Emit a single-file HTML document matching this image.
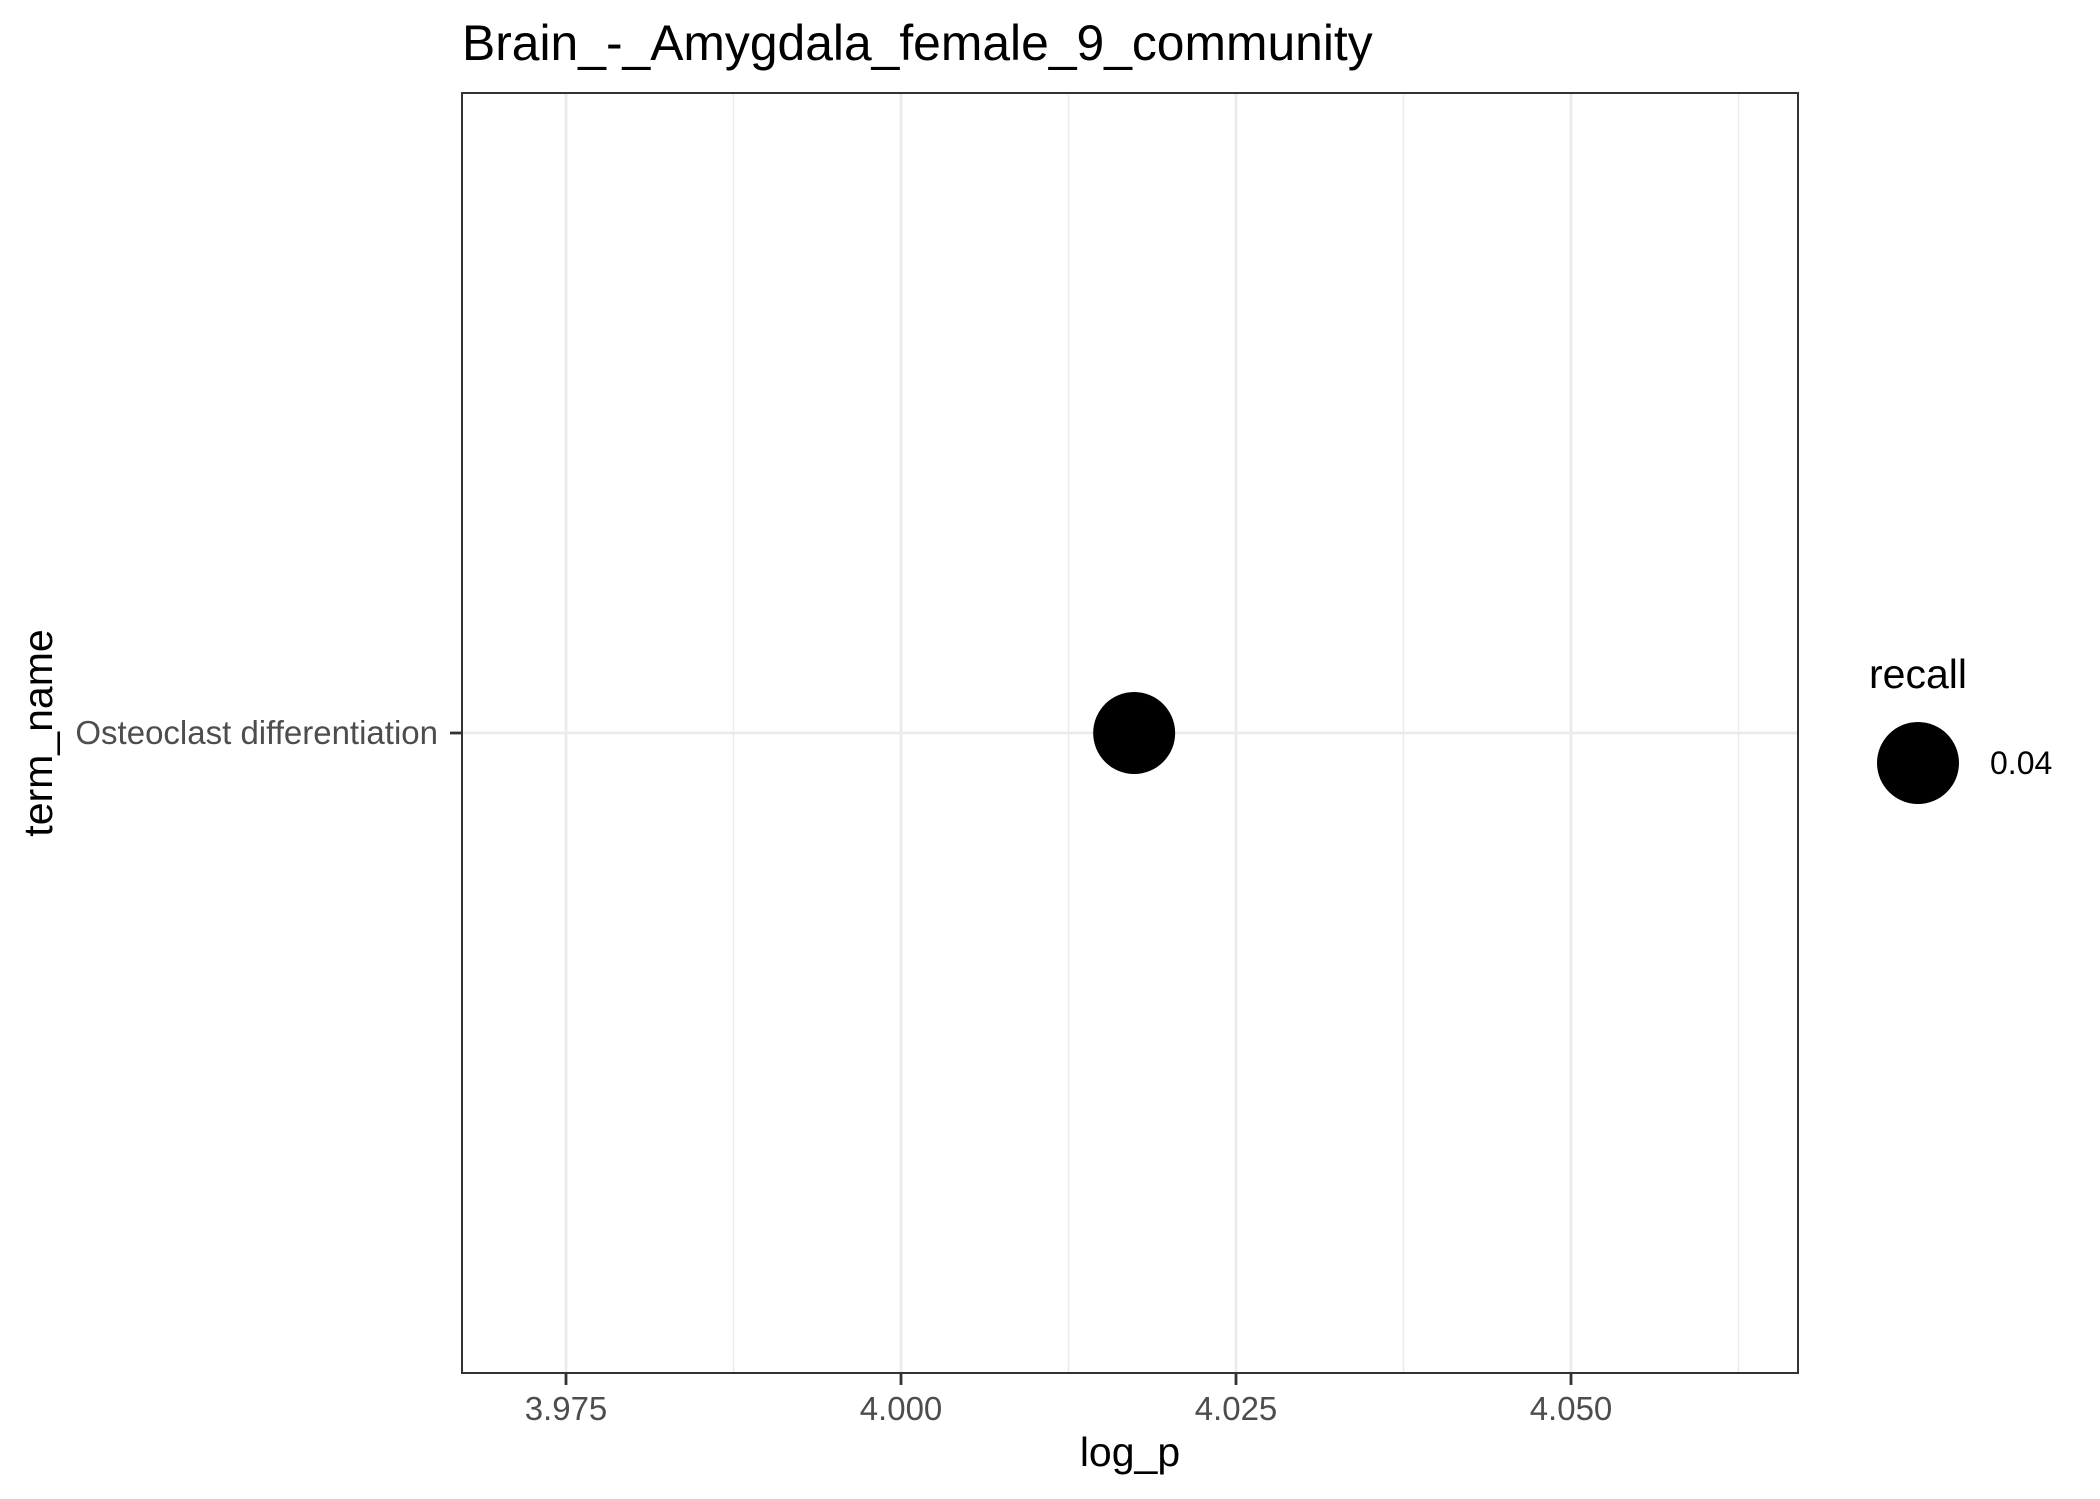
<!DOCTYPE html>
<html><head><meta charset="utf-8"><style>body{margin:0;background:#fff}svg{display:block}text{font-family:"Liberation Sans",sans-serif}</style></head>
<body>
<svg id="chart" width="2100" height="1499" xmlns="http://www.w3.org/2000/svg">
<rect width="2100" height="1499" fill="#fff"/>
<text x="462" y="60" font-size="49.8" fill="#000">Brain_-_Amygdala_female_9_community</text>
<g id="grid"></g>
<g id="marks"></g>
<rect x="462" y="93" width="1336" height="1280" fill="none" stroke="#333" stroke-width="2"/>
<g id="axes"></g>
<text x="1130" y="1466" font-size="41" text-anchor="middle" fill="#000">log_p</text>
<text transform="translate(52,733) rotate(-90)" font-size="41" text-anchor="middle" fill="#000">term_name</text>
<text x="1869" y="688" font-size="41" fill="#000">recall</text>
<circle cx="1918" cy="763" r="41" fill="#000"/>
<text x="1990" y="774" font-size="32" fill="#000">0.04</text>
</svg>
<script>
const categories = ["Osteoclast differentiation"];
const logP = [4.0174];
const recall = [0.04];
const xTicks = [3.975, 4.000, 4.025, 4.050];
const xTickLabels = ["3.975", "4.000", "4.025", "4.050"];
const xMinor = [3.9875, 4.0125, 4.0375, 4.0625];

const NS = "http://www.w3.org/2000/svg";
const panel = {l: 462, r: 1798, t: 93, b: 1373};
function xs(v){ return 566 + (v - 3.975) / 0.025 * 335; }
function ys(i){ return panel.t + (panel.b - panel.t) * (i + 1) / (categories.length + 1); }
function rs(v){ return 41 * Math.sqrt(v / 0.04); }
function mk(tag, attrs, parent){ const e = document.createElementNS(NS, tag); for (const k in attrs) e.setAttribute(k, attrs[k]); parent.appendChild(e); return e; }
const grid = document.getElementById('grid'), marks = document.getElementById('marks'), axes = document.getElementById('axes');

xMinor.forEach(v => {
  const l = mk('line', {x1: xs(v), x2: xs(v), y1: panel.t, y2: panel.b, stroke: '#ebebeb', 'stroke-width': 1.4}, grid);
  
  
});
xTicks.forEach((v, i) => {
  const l = mk('line', {x1: xs(v), x2: xs(v), y1: panel.t, y2: panel.b, stroke: '#ebebeb', 'stroke-width': 2.8}, grid);
  
  
  const t = mk('line', {x1: xs(v), x2: xs(v), y1: panel.b, y2: panel.b + 12, stroke: '#333', 'stroke-width': 2.8}, axes);
  
  
  const tx = mk('text', {x: xs(v), y: 1420, 'font-size': 33, fill: '#4d4d4d', 'text-anchor': 'middle'}, axes);
  tx.textContent = xTickLabels[i];
  
  
});
categories.forEach((c, i) => {
  const y = ys(i);
  const l = mk('line', {x1: panel.l, x2: panel.r, y1: y, y2: y, stroke: '#ebebeb', 'stroke-width': 2.8}, grid);
  
  
  const t = mk('line', {x1: panel.l - 12, x2: panel.l, y1: y, y2: y, stroke: '#333', 'stroke-width': 2.8}, axes);
  
  
  const tx = mk('text', {x: 438, y: y + 11, 'font-size': 33, fill: '#4d4d4d', 'text-anchor': 'end'}, axes);
  tx.textContent = c;
  
  
  const p = mk('circle', {cx: xs(logP[i]), cy: y, r: rs(recall[i]), fill: '#000'}, marks);
  
  
});
</script>
</body></html>
